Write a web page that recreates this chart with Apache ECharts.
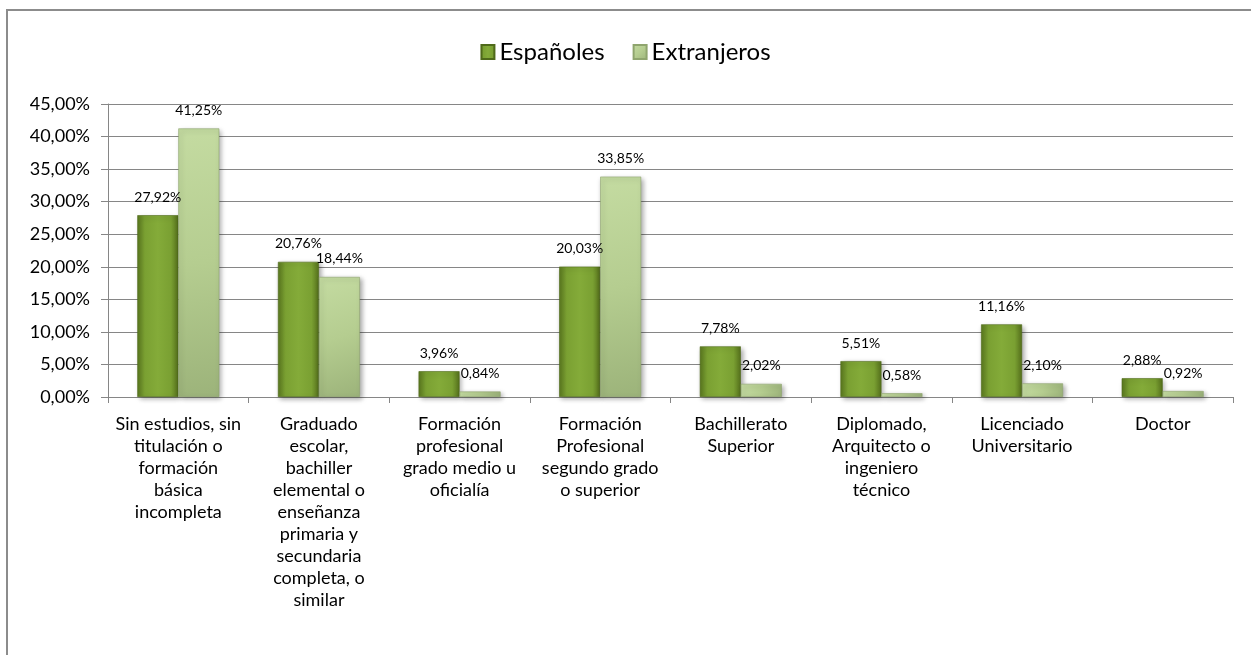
<!DOCTYPE html>
<html>
<head>
<meta charset="utf-8">
<script src="https://cdn.jsdelivr.net/npm/echarts@6/dist/echarts.min.js"></script>
<style>
  html, body { margin: 0; padding: 0; background: #fff; }
  #chart { width: 1251px; height: 655px; }
  #frame {
    position: absolute; left: 6px; top: 9px; width: 1260px; height: 660px;
    border-left: 2px solid #8c8c8c; border-top: 2px solid #8c8c8c;
    pointer-events: none;
  }
</style>
</head>
<body>
<div id="chart"></div>
<div id="frame"></div>
<script>
// datos del gráfico
const categorias = [
  "Sin estudios, sin\ntitulación o\nformación\nbásica\nincompleta",
  "Graduado\nescolar,\nbachiller\nelemental o\nenseñanza\nprimaria y\nsecundaria\ncompleta, o\nsimilar",
  "Formación\nprofesional\ngrado medio u\noficialía",
  "Formación\nProfesional\nsegundo grado\no superior",
  "Bachillerato\nSuperior",
  "Diplomado,\nArquitecto o\ningeniero\ntécnico",
  "Licenciado\nUniversitario",
  "Doctor"
];
const espanoles = [27.92, 20.76, 3.96, 20.03, 7.78, 5.51, 11.16, 2.88];
const extranjeros = [41.25, 18.44, 0.84, 33.85, 2.02, 0.58, 2.10, 0.92];

const fontFam = "Lato, 'Open Sans', sans-serif";
const pct = (v) => v.toFixed(2).replace(".", ",") + "%";

const verdeOscuro = new echarts.graphic.LinearGradient(0, 0, 1, 0, [
  { offset: 0, color: "#5a781f" },
  { offset: 0.18, color: "#7aa032" },
  { offset: 0.5, color: "#84ab39" },
  { offset: 0.82, color: "#7aa032" },
  { offset: 1, color: "#55701c" }
]);
const verdeClaro = new echarts.graphic.LinearGradient(0, 0, 1, 1, [
  { offset: 0, color: "#c4dba1" },
  { offset: 0.5, color: "#b5cd90" },
  { offset: 1, color: "#9cb37a" }
]);

const chart = echarts.init(document.getElementById("chart"));

const labelComun = {
  show: true,
  position: "top",
  distance: 11,
  color: "#000",
  fontSize: 14,
  fontFamily: fontFam,
  formatter: (p) => pct(p.value)
};

chart.setOption({
  animation: false,
  textStyle: { fontFamily: fontFam },
  legend: {
    top: 35,
    left: "center",
    icon: "rect",
    itemWidth: 13,
    itemHeight: 14,
    itemGap: 28,
    textStyle: { fontSize: 24, color: "#000", fontFamily: fontFam },
    data: ["Españoles", "Extranjeros"]
  },
  grid: {
    left: 108,
    right: 18,
    top: 104,
    bottom: 258,
    containLabel: false
  },
  xAxis: {
    type: "category",
    data: categorias,
    axisLine: { lineStyle: { color: "#868686", width: 1 } },
    axisTick: { show: true, length: 6, lineStyle: { color: "#868686" } },
    axisLabel: {
      interval: 0,
      color: "#000",
      fontSize: 18,
      lineHeight: 22,
      margin: 16,
      fontFamily: fontFam,
      align: "center",
      verticalAlign: "top"
    }
  },
  yAxis: {
    type: "value",
    min: 0,
    max: 45,
    interval: 5,
    axisLine: { show: true, lineStyle: { color: "#868686" } },
    axisTick: { show: true, length: 7, lineStyle: { color: "#868686" } },
    splitLine: { lineStyle: { color: "#868686", width: 1.2 } },
    axisLabel: {
      color: "#000",
      fontSize: 18,
      margin: 18,
      fontFamily: fontFam,
      formatter: (v) => pct(v)
    }
  },
  series: [
    {
      name: "Españoles",
      type: "bar",
      data: espanoles,
      barWidth: 41,
      barGap: "0%",
      itemStyle: {
        color: verdeOscuro,
        borderColor: "#4f6a1a",
        borderWidth: 0.6,
        shadowColor: "rgba(0,0,0,0.35)",
        shadowBlur: 5,
        shadowOffsetX: 2,
        shadowOffsetY: 2
      },
      label: labelComun
    },
    {
      name: "Extranjeros",
      type: "bar",
      data: extranjeros,
      barWidth: 41,
      barGap: "0%",
      itemStyle: {
        color: verdeClaro,
        borderColor: "#8fa56e",
        borderWidth: 0.6,
        shadowColor: "rgba(0,0,0,0.35)",
        shadowBlur: 5,
        shadowOffsetX: 2,
        shadowOffsetY: 2
      },
      label: labelComun
    }
  ]
});
</script>
</body>
</html>
